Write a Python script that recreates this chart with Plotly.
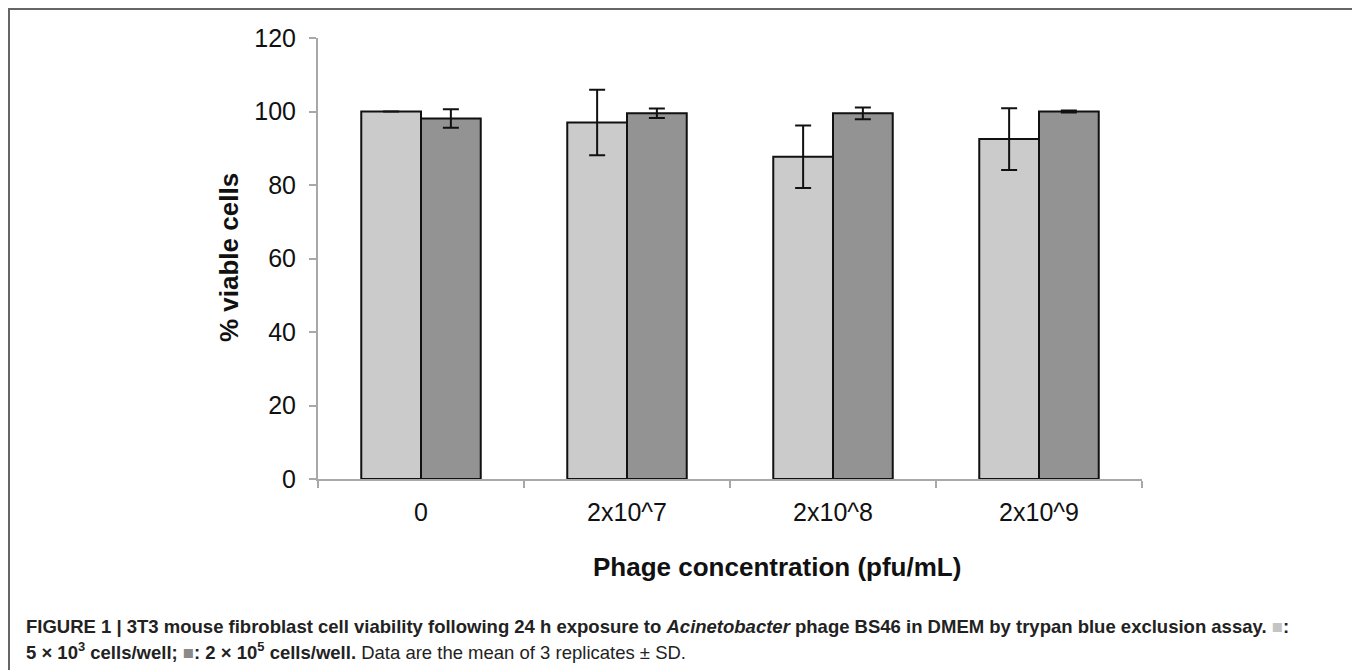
import plotly.graph_objects as go

categories = ["0", "2x10^7", "2x10^8", "2x10^9"]
low_density = [100.0, 97.0, 87.7, 92.5]
low_density_sd = [0.0, 8.9, 8.5, 8.4]
high_density = [98.1, 99.5, 99.5, 100.0]
high_density_sd = [2.5, 1.3, 1.6, 0.3]
y_ticks = [0, 20, 40, 60, 80, 100, 120]

# page has an 8px body margin; figure sized to fit the 1360x670 window
OFF = 8
W, H = 1360 - OFF, 670 - OFF
L, T = 318 - OFF, 38 - OFF
R = W - (1142 - OFF)
B = H - (479 - OFF)
pw, ph = W - L - R, H - T - B


def px_x(xpage):
    return (xpage - OFF - L) / pw


def px_y(ypage):
    return (H - B - (ypage - OFF)) / ph


fig = go.Figure()
fig.add_trace(go.Bar(
    x=categories, y=low_density,
    marker=dict(color="#cbcbcb", line=dict(color="#111111", width=2)),
    error_y=dict(type="data", array=low_density_sd, color="#111111", thickness=2, width=8),
    showlegend=False,
))
fig.add_trace(go.Bar(
    x=categories, y=high_density,
    marker=dict(color="#939393", line=dict(color="#111111", width=2)),
    error_y=dict(type="data", array=high_density_sd, color="#111111", thickness=2, width=8),
    showlegend=False,
))

fig.update_layout(
    width=W, height=H,
    margin=dict(l=L, r=R, t=T, b=B, pad=0),
    paper_bgcolor="white", plot_bgcolor="white",
    barmode="group", bargap=0.42, bargroupgap=0,
    font=dict(family="Liberation Sans, Arial, sans-serif", color="#111111"),
    xaxis=dict(
        showline=True, linecolor="#a8a8a8", linewidth=2,
        ticks="outside", tickson="boundaries", ticklen=7, tickcolor="#a8a8a8", tickwidth=2,
        tickfont=dict(size=25, color="#111111"),
        ticklabelstandoff=10,
        showgrid=False, zeroline=False,
    ),
    yaxis=dict(
        range=[0, 120], tickvals=y_ticks,
        showline=True, linecolor="#a8a8a8", linewidth=2,
        ticks="outside", ticklen=7, tickcolor="#a8a8a8", tickwidth=2,
        tickfont=dict(size=25, color="#111111"),
        ticklabelstandoff=8,
        showgrid=False, zeroline=False,
    ),
)

# axis titles
fig.add_annotation(text="<b>Phage concentration (pfu/mL)</b>", xref="paper", yref="paper",
                   x=px_x(777), y=px_y(567), xanchor="center", yanchor="middle",
                   showarrow=False, font=dict(size=26, color="#111111"))
fig.add_annotation(text="<b>% viable cells</b>", xref="paper", yref="paper",
                   x=px_x(229), y=px_y(258), xanchor="center", yanchor="middle", textangle=-90,
                   showarrow=False, font=dict(size=26, color="#111111"))

# outer frame
fig.add_shape(type="rect", xref="paper", yref="paper",
              x0=px_x(OFF + 1), x1=px_x(1355), y0=px_y(720), y1=px_y(OFF + 1),
              line=dict(color="#666666", width=2), fillcolor="rgba(0,0,0,0)", layer="below")

cap_font = dict(family="Liberation Sans, Arial, sans-serif", size=18.5, color="#222222")
sq_light = "<span style='color:#c4c4c4'>■</span>"
sq_dark = "<span style='color:#8a8a8a'>■</span>"
line1 = ("<b>FIGURE 1 | 3T3 mouse fibroblast cell viability following 24 h exposure to <i>Acinetobacter</i> "
         "phage BS46 in DMEM by trypan blue exclusion assay. " + sq_light + ":</b>")
line2 = ("<b>5 × 10<sup>3</sup> cells/well; " + sq_dark + ": 2 × 10<sup>5</sup> cells/well.</b> "
         "Data are the mean of 3 replicates ± SD.")
fig.add_annotation(text=line1, xref="paper", yref="paper", x=px_x(24), y=px_y(626),
                   xanchor="left", yanchor="middle", showarrow=False, font=cap_font, align="left")
fig.add_annotation(text=line2, xref="paper", yref="paper", x=px_x(24), y=px_y(651),
                   xanchor="left", yanchor="middle", showarrow=False, font=cap_font, align="left")

fig.write_html("out.html")
